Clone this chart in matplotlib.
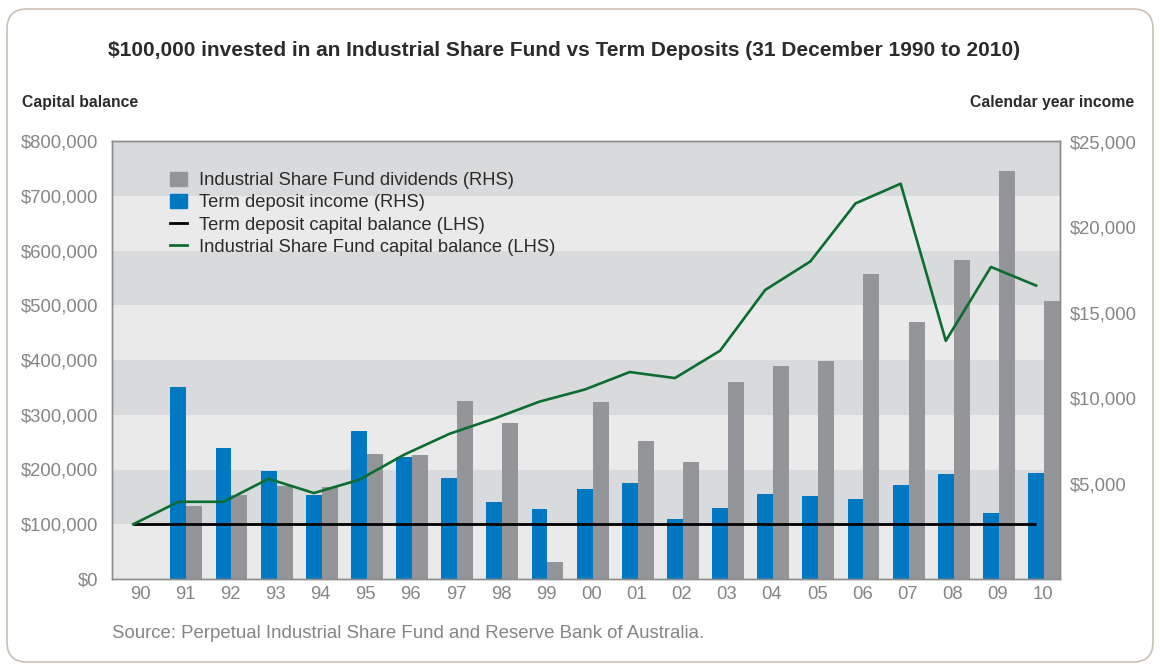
import matplotlib.pyplot as plt
from matplotlib.patches import Patch, FancyBboxPatch, Rectangle
from matplotlib.lines import Line2D
from matplotlib.transforms import blended_transform_factory
from matplotlib.ticker import FuncFormatter
import numpy as np

plt.rcParams['font.family'] = ['Liberation Sans', 'DejaVu Sans']

# chart data
years = ['90', '91', '92', '93', '94', '95', '96', '97', '98', '99', '00',
         '01', '02', '03', '04', '05', '06', '07', '08', '09', '10']

# Industrial Share Fund dividends (RHS), no bar for 1990
fund_dividends = [np.nan, 3710, 4360, 4880, 4830, 6750, 6700, 9850, 8570, 440, 9800,
                  7520, 6290, 10970, 11900, 12190, 17280, 14470, 18100, 23300, 15700]
# Term deposit income (RHS)
td_income = [np.nan, 10670, 7100, 5760, 4360, 8100, 6580, 5350, 3950, 3540, 4710,
             5060, 2950, 3600, 4420, 4300, 4120, 4940, 5590, 3300, 5640]
# Term deposit capital balance (LHS)
td_capital = [100000] * 21
# Industrial Share Fund capital balance (LHS)
fund_capital = [100000, 141000, 141000, 183000, 157000, 181000, 227000, 265000, 293000, 324000, 346000,
                378000, 367000, 417000, 528000, 580000, 686000, 722000, 435000, 570000, 536000]

lhs_ticks = list(range(0, 800001, 100000))
rhs_ticks = [5000, 10000, 15000, 20000, 25000]

BLUE = '#0079c2'
GREY = '#939598'
GREEN = '#0b6e30'
BAND_DARK = '#d9dadc'
BAND_LIGHT = '#eaeaea'
TICK_COL = '#858585'
TEXT_COL = '#2b2b2b'

W, H = 1160, 664
fig = plt.figure(figsize=(W / 100, H / 100), dpi=100)

# rounded frame around the whole chart
frame = FancyBboxPatch((0.07, 0.02), 11.46, 6.53, boxstyle='round,pad=0,rounding_size=0.2',
                       transform=fig.dpi_scale_trans, fc='white', ec='#cbbfb2', lw=1.2, zorder=-5)
fig.patches.append(frame)

ax = fig.add_axes([112 / W, 1 - 579 / H, 948 / W, 438 / H])
ax2 = ax.twinx()
ax.set_zorder(ax2.get_zorder() + 1)
ax.patch.set_visible(False)

x = np.arange(len(years))
bw = 0.354

# background bands, in LHS units, drawn on the bar axis so they stay behind the bars
band_tf = blended_transform_factory(ax2.transAxes, ax.transData)
for k in range(len(lhs_ticks) - 1):
    col = BAND_DARK if k % 2 == 1 else BAND_LIGHT
    ax2.add_patch(Rectangle((0, lhs_ticks[k]), 1, lhs_ticks[k + 1] - lhs_ticks[k],
                            transform=band_tf, fc=col, lw=0, zorder=0))

# right axis: bars
ax2.set_ylim(-556, 25058)
floor = ax2.get_ylim()[0]
ax2.bar(x, np.array(td_income) - floor, bottom=floor, width=bw, color=BLUE, zorder=2)
ax2.bar(x + bw, np.array(fund_dividends) - floor, bottom=floor, width=bw, color=GREY, zorder=2)
ax2.set_ylim(-556, 25058)

# left axis: lines
ax.plot(x, td_capital, color='black', lw=2.0, solid_capstyle='butt', zorder=3)
ax.plot(x, fund_capital, color=GREEN, lw=1.9, zorder=4)
ax.set_ylim(0, 800000)
ax.set_xlim(-0.47, 20.53)

ax.set_yticks(lhs_ticks)
ax.yaxis.set_major_formatter(FuncFormatter(lambda v, p: '${:,.0f}'.format(v)))
ax2.set_yticks(rhs_ticks)
ax2.yaxis.set_major_formatter(FuncFormatter(lambda v, p: '${:,.0f}'.format(v)))
ax.set_xticks(x + 0.15)
ax.set_xticklabels(years)

ax.tick_params(axis='y', length=0, pad=10, labelsize=13.3, labelcolor=TICK_COL)
ax.tick_params(axis='x', length=0, pad=5, labelsize=13.3, labelcolor=TICK_COL)
ax2.tick_params(axis='y', length=0, pad=7, labelsize=13.3, labelcolor=TICK_COL)

for a in (ax, ax2):
    for s in a.spines.values():
        s.set_color('#8c8c8c')
        s.set_linewidth(1.0)

handles = [Patch(color=GREY), Patch(color=BLUE),
           Line2D([], [], color='black', lw=2.0), Line2D([], [], color=GREEN, lw=2.0)]
labels = ['Industrial Share Fund dividends (RHS)', 'Term deposit income (RHS)',
          'Term deposit capital balance (LHS)', 'Industrial Share Fund capital balance (LHS)']
leg = ax.legend(handles, labels, loc='upper left', bbox_to_anchor=(170 / W, 1 - 172 / H),
                bbox_transform=fig.transFigure, frameon=False, fontsize=13.25,
                handlelength=0.9, handleheight=0.8, handletextpad=0.7,
                labelspacing=0.25, borderpad=0, borderaxespad=0)
for t in leg.get_texts():
    t.set_color(TEXT_COL)

fig.text(564 / W, 1 - 50 / H,
         '$100,000 invested in an Industrial Share Fund vs Term Deposits (31 December 1990 to 2010)',
         ha='center', va='center', fontsize=15, fontweight='bold', color=TEXT_COL)
fig.text(22 / W, 1 - 102 / H, 'Capital balance', ha='left', va='center',
         fontsize=11.3, fontweight='bold', color=TEXT_COL)
fig.text(1134 / W, 1 - 102 / H, 'Calendar year income', ha='right', va='center',
         fontsize=11.3, fontweight='bold', color=TEXT_COL)
fig.text(112 / W, 1 - 633 / H, 'Source: Perpetual Industrial Share Fund and Reserve Bank of Australia.',
         ha='left', va='center', fontsize=13.4, color=TICK_COL)

fig.savefig('out.png', dpi=100)
